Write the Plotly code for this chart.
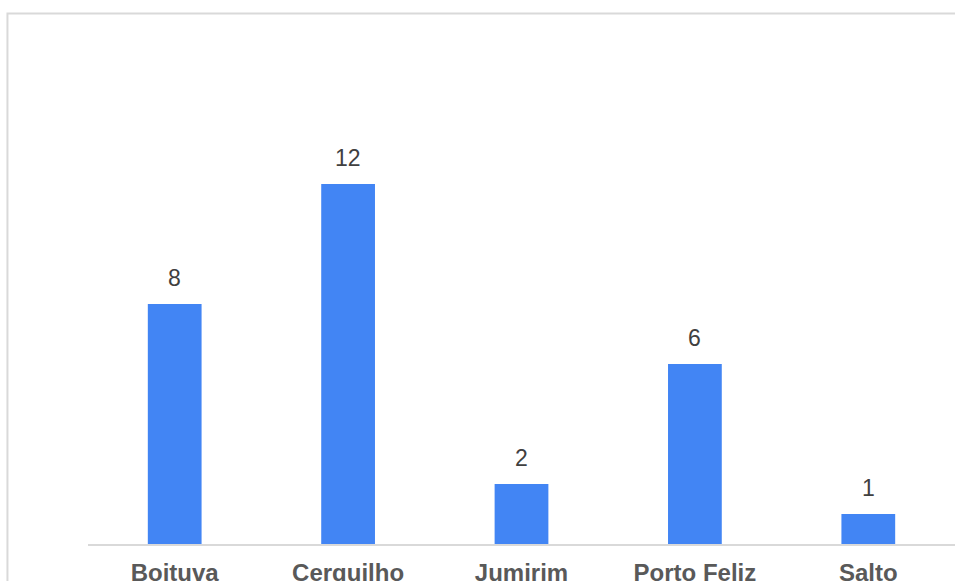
import plotly.graph_objects as go

# Municipalities and their counts
cidades = ["Boituva", "Cerquilho", "Jumirim", "Porto Feliz", "Salto"]
valores = [8, 12, 2, 6, 1]

BAR_COLOR = "#4285f4"
FRAME_COLOR = "#d9d9d9"
FONT = "Liberation Sans, Arial, sans-serif"

fig = go.Figure(
    go.Bar(
        x=cidades,
        y=valores,
        marker=dict(color=BAR_COLOR, line=dict(width=0)),
        width=0.31,
        hoverinfo="x+y",
    )
)

# Value labels above each bar
for c, v in zip(cidades, valores):
    fig.add_annotation(
        x=c, y=v, text=str(v), showarrow=False,
        yanchor="bottom", yshift=11,
        font=dict(family=FONT, size=23, color="#404040"),
    )

# Light outer frame around the chart area
fig.add_shape(
    type="rect", xref="paper", yref="paper",
    x0=-0.0929, x1=1.2, y0=-0.3, y1=1.2631,
    line=dict(color=FRAME_COLOR, width=2), fillcolor="rgba(0,0,0,0)",
    layer="below",
)

fig.update_layout(
    width=955, height=581,
    margin=dict(l=88, r=0, t=124, b=37, autoexpand=False),
    paper_bgcolor="white", plot_bgcolor="white",
    showlegend=False,
    bargap=0.69,
    xaxis=dict(
        automargin=False,
        showline=True, linecolor=FRAME_COLOR, linewidth=1.5,
        showgrid=False, zeroline=False, ticks="",
        tickfont=dict(family=FONT, size=24, color="#595959", weight="bold"),
        ticklabelstandoff=6,
    ),
    yaxis=dict(
        automargin=False,
        range=[0, 14], visible=False, showgrid=False, zeroline=False,
    ),
)

fig.write_html("out.html")
